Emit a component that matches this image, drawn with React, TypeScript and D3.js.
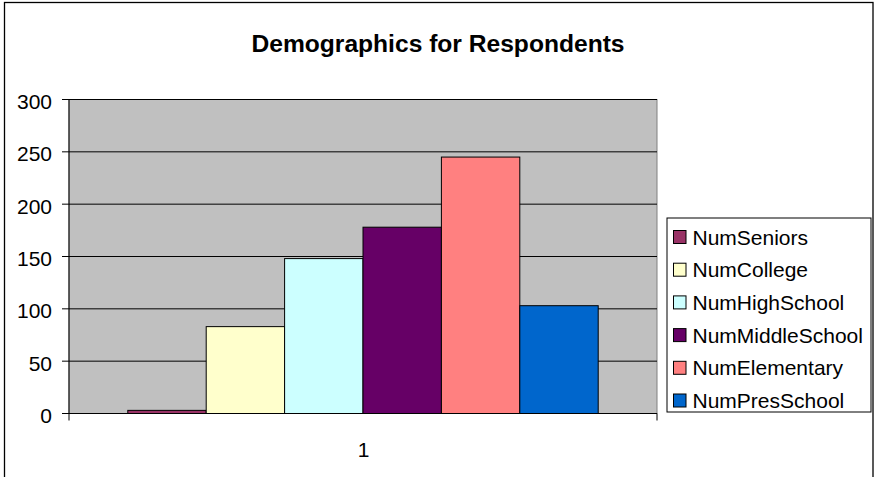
import React from "react";
import * as d3 from "d3";

// Survey respondent counts, one category ("1") split into six series
const seriesNames = [
  "NumSeniors",
  "NumCollege",
  "NumHighSchool",
  "NumMiddleSchool",
  "NumElementary",
  "NumPresSchool",
];
const seriesValues = [3, 83, 148, 178, 245, 103];
const seriesColors = ["#993366", "#FFFFCC", "#CCFFFF", "#660066", "#FF8080", "#0066CC"];
const categories = ["1"];
const yTicks = [0, 50, 100, 150, 200, 250, 300];
const chartTitle = "Demographics for Respondents";

const W = 876;
const H = 477;
const plot = { left: 69, right: 657, top: 99.5, bottom: 413.5 };
const font = "Arial, 'Liberation Sans', sans-serif";

export default function App() {
  const y = d3.scaleLinear().domain([0, 300]).range([plot.bottom, plot.top]);
  const x0 = d3.scaleBand<string>().domain(categories).range([plot.left, plot.right]).padding(0);
  const x1 = d3
    .scaleBand<string>()
    .domain(seriesNames)
    .range([0, x0.bandwidth()])
    .paddingInner(0)
    .paddingOuter(0.75);

  const legend = { x: 667, y: 218, w: 204, h: 194 };
  const rowStep = 32.7;

  return (
    <svg
      width={W}
      height={H}
      style={{ position: "absolute", left: 0, top: 0, background: "#fff" }}
      fontFamily={font}
    >
      {/* chart area frame */}
      <rect x={4.5} y={2.5} width={868.5} height={520} fill="#fff" stroke="#000" strokeWidth={1.3} />

      <text x={438} y={51.5} textAnchor="middle" fontSize={24.6} fontWeight="bold" fill="#000">
        {chartTitle}
      </text>

      {/* plot area */}
      <rect
        x={plot.left}
        y={plot.top}
        width={plot.right - plot.left}
        height={plot.bottom - plot.top}
        fill="#C0C0C0"
        stroke="#808080"
        strokeWidth={1}
      />
      {yTicks.map((t) => (
        <line
          key={"g" + t}
          x1={plot.left}
          x2={plot.right}
          y1={y(t)}
          y2={y(t)}
          stroke="#000"
          strokeWidth={1}
        />
      ))}

      {/* bars */}
      {categories.map((c) =>
        seriesNames.map((s, i) => (
          <rect
            key={c + s}
            x={(x0(c) ?? 0) + (x1(s) ?? 0)}
            y={y(seriesValues[i])}
            width={x1.bandwidth()}
            height={y(0) - y(seriesValues[i])}
            fill={seriesColors[i]}
            stroke="#000"
            strokeWidth={1}
          />
        ))
      )}

      {/* value axis */}
      <line x1={plot.left} x2={plot.left} y1={plot.top} y2={plot.bottom + 7} stroke="#000" strokeWidth={1} />
      {yTicks.map((t) => (
        <g key={"t" + t}>
          <line x1={plot.left - 7} x2={plot.left} y1={y(t)} y2={y(t)} stroke="#000" strokeWidth={1} />
          <text x={52} y={y(t) + 9.5} textAnchor="end" fontSize={21} fill="#000">
            {t}
          </text>
        </g>
      ))}

      {/* category axis */}
      <line x1={plot.left} x2={plot.right} y1={plot.bottom} y2={plot.bottom} stroke="#000" strokeWidth={1} />
      <line x1={plot.right} x2={plot.right} y1={plot.bottom} y2={plot.bottom + 7} stroke="#000" strokeWidth={1} />
      {categories.map((c) => (
        <text
          key={"c" + c}
          x={(x0(c) ?? 0) + x0.bandwidth() / 2 + 0.5}
          y={456.5}
          textAnchor="middle"
          fontSize={21}
          fill="#000"
        >
          {c}
        </text>
      ))}

      {/* legend */}
      <rect x={legend.x} y={legend.y} width={legend.w} height={legend.h} fill="#fff" stroke="#000" strokeWidth={1} />
      {seriesNames.map((s, i) => {
        const cy = 237 + i * rowStep;
        return (
          <g key={"l" + s}>
            <rect x={673.5} y={cy - 6.5} width={12.5} height={13} fill={seriesColors[i]} stroke="#000" strokeWidth={1} />
            <text x={692.5} y={cy + 7.5} fontSize={21} fill="#000">
              {s}
            </text>
          </g>
        );
      })}
    </svg>
  );
}
